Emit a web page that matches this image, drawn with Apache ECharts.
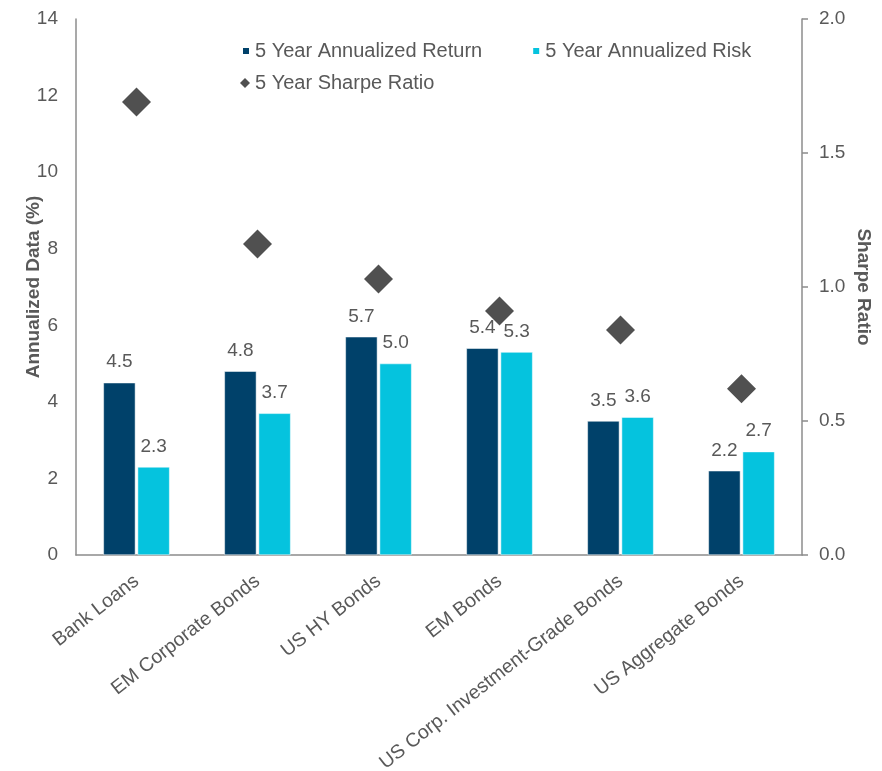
<!DOCTYPE html>
<html>
<head>
<meta charset="utf-8">
<script src="https://cdn.jsdelivr.net/npm/echarts@6/dist/echarts.min.js"></script>
<style>
  html, body { margin: 0; padding: 0; background: #fff; }
  #chart { width: 882px; height: 771px; }
</style>
</head>
<body>
<div id="chart"></div>
<script>
// Fixed income sectors: 5-year return, risk and Sharpe ratio
const categories = ['Bank Loans', 'EM Corporate Bonds', 'US HY Bonds', 'EM Bonds',
  'US Corp. Investment-Grade Bonds', 'US Aggregate Bonds'];
const annualizedReturn = [4.5, 4.8, 5.7, 5.4, 3.5, 2.2];
const annualizedRisk = [2.3, 3.7, 5.0, 5.3, 3.6, 2.7];
const sharpeRatio = [1.69, 1.16, 1.03, 0.91, 0.84, 0.62];

const leftTicks = { min: 0, max: 14, interval: 2 };
const rightTicks = { min: 0, max: 2, interval: 0.5 };

const FONT = 'Liberation Sans, Arial, sans-serif';
const TEXT = '#595959';
const AXIS = '#8c8c8c';
const NAVY = '#00416a';
const CYAN = '#05c3de';
const DIAMOND = '#505050';

const chart = echarts.init(document.getElementById('chart'), null, { renderer: 'canvas' });

const barLabel = {
  show: true,
  position: 'top',
  distance: 11,
  color: TEXT,
  fontFamily: FONT,
  fontSize: 19,
  formatter: p => p.value.toFixed(1)
};

chart.setOption({
  animation: false,
  backgroundColor: '#ffffff',
  textStyle: { fontFamily: FONT, color: TEXT },
  grid: {
    left: 76, right: 80, top: 19, bottom: 216,
    containLabel: false,
    outerBoundsMode: 'none'
  },
  legend: [
    {
      data: ['5 Year Annualized Return', '5 Year Annualized Risk'],
      left: 241, top: 41, padding: 0,
      itemWidth: 8, itemHeight: 8, itemGap: 49,
      icon: 'rect',
      textStyle: { color: TEXT, fontSize: 20, fontFamily: FONT }
    },
    {
      data: ['5 Year Sharpe Ratio'],
      left: 240, top: 73, padding: 0,
      itemWidth: 10, itemHeight: 10,
      icon: 'diamond',
      textStyle: { color: TEXT, fontSize: 20, fontFamily: FONT }
    }
  ],
  xAxis: {
    type: 'category',
    data: categories,
    axisLine: { show: true, lineStyle: { color: AXIS, width: 1.5 } },
    axisTick: { show: false },
    axisLabel: {
      rotate: 38, interval: 0, margin: 24,
      color: TEXT, fontSize: 19.5, fontFamily: FONT
    }
  },
  yAxis: [
    {
      type: 'value',
      min: leftTicks.min, max: leftTicks.max, interval: leftTicks.interval,
      name: 'Annualized Data (%)',
      nameLocation: 'middle', nameGap: 33, nameMoveOverlap: false,
      nameTextStyle: { color: TEXT, fontSize: 19, fontWeight: 'bold', fontFamily: FONT },
      axisLine: { show: true, lineStyle: { color: AXIS, width: 1.5 } },
      axisTick: { show: false },
      splitLine: { show: false },
      axisLabel: { color: TEXT, fontSize: 19, fontFamily: FONT, margin: 18 }
    },
    {
      type: 'value',
      position: 'right',
      min: rightTicks.min, max: rightTicks.max, interval: rightTicks.interval,
      name: 'Sharpe Ratio',
      nameLocation: 'middle', nameGap: 52, nameRotate: -90, nameMoveOverlap: false,
      nameTextStyle: { color: TEXT, fontSize: 19, fontWeight: 'bold', fontFamily: FONT },
      axisLine: { show: true, lineStyle: { color: AXIS, width: 1.5 } },
      axisTick: { show: true, length: 6, inside: false, lineStyle: { color: AXIS, width: 1.5 } },
      splitLine: { show: false },
      axisLabel: {
        color: TEXT, fontSize: 19, fontFamily: FONT, margin: 17,
        formatter: v => v.toFixed(1)
      }
    }
  ],
  series: [
    {
      name: '5 Year Annualized Return',
      type: 'bar',
      yAxisIndex: 0,
      data: annualizedReturn,
      barWidth: 32,
      barGap: '7%',
      itemStyle: { color: NAVY, borderColor: '#ffffff', borderWidth: 0.5 },
      label: barLabel
    },
    {
      name: '5 Year Annualized Risk',
      type: 'bar',
      yAxisIndex: 0,
      data: annualizedRisk,
      barWidth: 32,
      itemStyle: { color: CYAN, borderColor: '#ffffff', borderWidth: 0.5 },
      label: barLabel
    },
    {
      name: '5 Year Sharpe Ratio',
      type: 'scatter',
      yAxisIndex: 1,
      data: sharpeRatio,
      symbol: 'diamond',
      symbolSize: 29,
      itemStyle: { color: DIAMOND, opacity: 1 },
      z: 5
    }
  ]
});
</script>
</body>
</html>
